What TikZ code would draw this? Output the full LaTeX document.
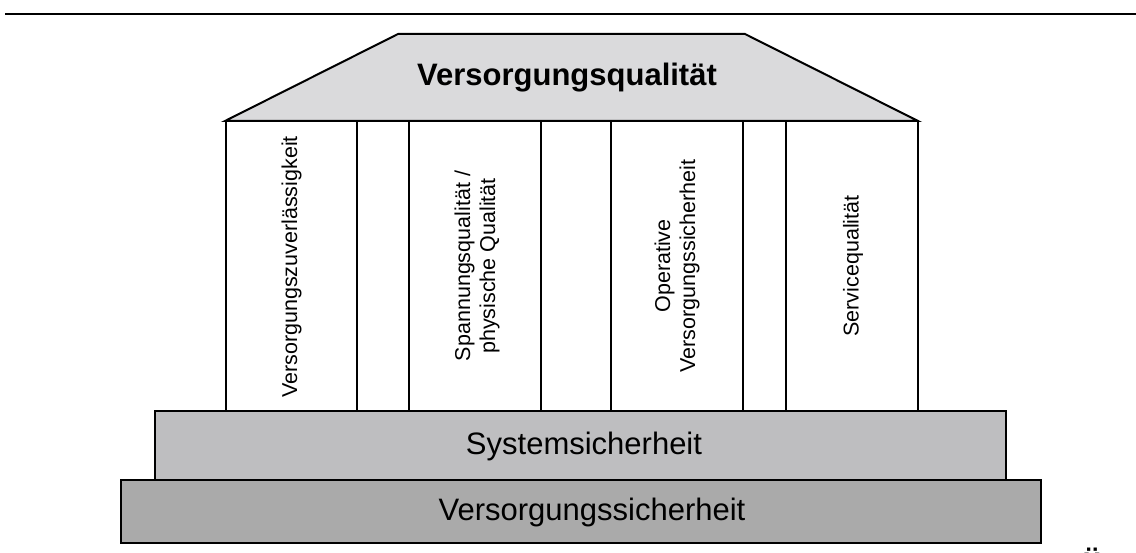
\documentclass[tikz,border=0pt]{standalone}
\usepackage{fontspec}
\setmainfont{Liberation Sans}
\definecolor{roofgray}{HTML}{DADADC}
\definecolor{sysgray}{HTML}{BEBEC0}
\definecolor{basegray}{HTML}{AAAAAA}
\tikzset{
  outline/.style={draw=black, line width=2pt, line join=miter},
  coltext/.style={rotate=90, align=center, font=\fontsize{21.5}{25}\selectfont, inner sep=0pt},
  bigtext/.style={font=\fontsize{31}{36}\selectfont, inner sep=0pt},
}
\begin{document}
\begin{tikzpicture}[x=1pt,y=-1pt]
\useasboundingbox (0,0) rectangle (1136,553);
% top rule
\coordinate (ruleL) at (5,14);
\coordinate (ruleR) at (1136,14);
\draw[line width=2.7pt] (ruleL) -- (ruleR);
% columns
\draw[outline] (226,121) rectangle (357,411);
\draw[outline] (357,121) rectangle (409,411);
\draw[outline] (409,121) rectangle (541,411);
\draw[outline] (541,121) rectangle (611,411);
\draw[outline] (611,121) rectangle (743,411);
\draw[outline] (743,121) rectangle (786,411);
\draw[outline] (786,121) rectangle (918,411);
% roof
\draw[outline, fill=roofgray] (398,34) -- (745,34) -- (918,121) -- (225,121) -- cycle;
\node[bigtext, font=\fontsize{31}{36}\selectfont\bfseries] (roof) at (567,78) {Versorgungsqualität};
% column texts
\node[coltext] (c1) at (291.5,267) {Versorgungszuverlässigkeit};
\node[coltext] (c2) at (477,266) {Spannungsqualität /\\physische Qualität};
\node[coltext] (c3) at (677,266) {Operative\\Versorgungssicherheit};
\node[coltext] (c4) at (853,266) {Servicequalität};
% bases
\draw[outline, fill=sysgray] (155,411) rectangle (1006,480);
\node[bigtext] (sys) at (584,446) {Systemsicherheit};
\draw[outline, fill=basegray] (121,480) rectangle (1041,543);
\node[bigtext] (base) at (592,512) {Versorgungssicherheit};
% cut-off glyph at the bottom edge
\node[font=\fontsize{31}{36}\selectfont\bfseries, inner sep=0pt, anchor=base] (cut) at (1092,569) {ü};
\end{tikzpicture}
\end{document}
